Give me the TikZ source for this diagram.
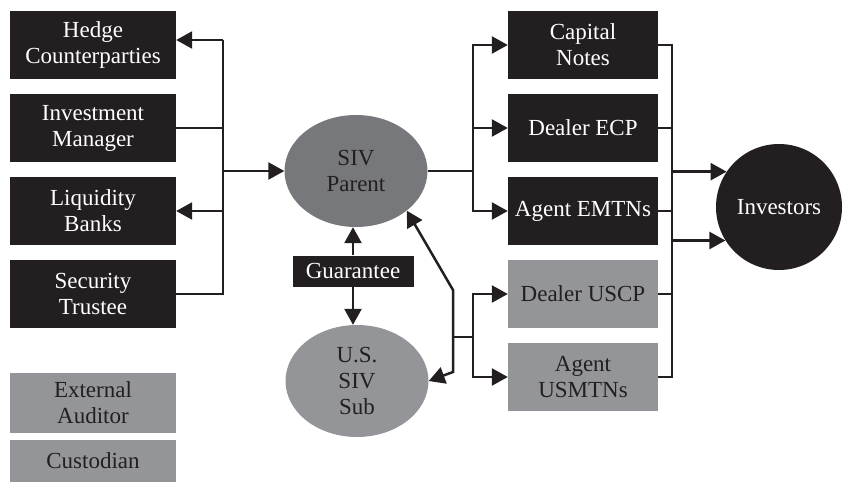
\documentclass[tikz,border=0pt]{standalone}
\usepackage{fontspec}
\setmainfont{Liberation Serif}
\usetikzlibrary{arrows.meta,shapes.geometric}
\definecolor{boxblack}{HTML}{231F20}
\definecolor{boxgray}{HTML}{939598}
\definecolor{ellgray}{HTML}{77787B}
\begin{document}
\begin{tikzpicture}[x=1pt,y=-1pt,
  txt/.style={font=\fontsize{23}{26}\selectfont, align=center, inner sep=0pt},
  blackbox/.style={txt, fill=boxblack, text=white, minimum height=68pt},
  graybox/.style={txt, fill=boxgray, text=boxblack},
  leftbox/.style={minimum width=166pt},
  rightbox/.style={minimum width=150pt},
  oval/.style={txt, ellipse, minimum width=143pt, minimum height=112pt, text=boxblack},
  conn/.style={line width=2.5pt, draw=boxblack},
  arr/.style={conn, -{Triangle[length=16pt,width=17pt]}},
]
\useasboundingbox (0,0) rectangle (847,482);

% left column
\node[blackbox, leftbox] (hedge) at (93,45) {Hedge\\Counterparties};
\node[blackbox, leftbox] (invm) at (93,128) {Investment\\Manager};
\node[blackbox, leftbox] (liq) at (93,211) {Liquidity\\Banks};
\node[blackbox, leftbox] (sec) at (93,294) {Security\\Trustee};
\node[graybox, leftbox, minimum height=60pt] (aud) at (93,403) {External\\Auditor};
\node[graybox, leftbox, minimum height=42pt] (cust) at (93,461) {Custodian};

% centre
\node[oval, fill=ellgray] (sivp) at (356,171) {SIV\\Parent};
\node[txt, fill=boxblack, text=white, minimum width=121pt, minimum height=31pt] (guar) at (353,271) {Guarantee};
\node[oval, fill=boxgray] (sub) at (357,381) {U.S.\\SIV\\Sub};

% right column
\node[blackbox, rightbox] (cap) at (583,45) {Capital\\Notes};
\node[blackbox, rightbox] (decp) at (583,128) {Dealer ECP};
\node[blackbox, rightbox] (aemtn) at (583,211) {Agent EMTNs};
\node[graybox, rightbox, minimum height=68pt] (uscp) at (583,294) {Dealer USCP};
\node[graybox, rightbox, minimum height=68pt] (usmtn) at (583,377) {Agent\\USMTNs};

\node[txt, circle, fill=boxblack, text=white, minimum size=126pt] (inv) at (779,207) {Investors};

% left bus
\coordinate (lb) at (223,40);
\draw[conn] (sec.east) -| (lb);
\draw[arr] (lb) -- (hedge.east |- lb);
\draw[conn] (invm.east) -- (invm.east -| lb);
\draw[arr] (lb |- sivp.west) -- (sivp.west);
\draw[arr] (lb |- liq.east) -- (liq.east);

% guarantee
\draw[arr] (guar.north) -- (guar.north |- sivp.south);
\draw[arr] (guar.south) -- (guar.south |- sub.north);

% parent / sub link
\coordinate (m1) at (453,290);
\coordinate (m2) at (453,372);
\coordinate (mj) at (453,337);
\coordinate (ub) at (473,337);
\draw[conn, {Triangle[length=16pt,width=17pt]}-{Triangle[length=16pt,width=17pt]}] (sivp.-38) -- (m1) -- (m2) -- (sub.east);
\draw[conn] (mj) -- (ub);
\draw[arr] (ub) |- (uscp.west);
\draw[arr] (ub) |- (usmtn.west);

% parent to issuance
\coordinate (rb) at (473,171);
\draw[conn] (sivp.east) -- (rb);
\draw[arr] (rb) |- (cap.west);
\draw[arr] (rb) |- (decp.west);
\draw[arr] (rb) |- (aemtn.west);

% right bus to investors
\coordinate (ib) at (672,172);
\draw[conn] (cap.east) -| (ib);
\draw[conn] (usmtn.east) -| (ib);
\draw[conn] (decp.east) -- (decp.east -| ib);
\draw[conn] (aemtn.east) -- (aemtn.east -| ib);
\draw[conn] (uscp.east) -- (uscp.east -| ib);
\draw[arr] (inv.146 -| ib) -- (inv.146);
\draw[arr] (inv.212 -| ib) -- (inv.212);
\end{tikzpicture}
\end{document}
